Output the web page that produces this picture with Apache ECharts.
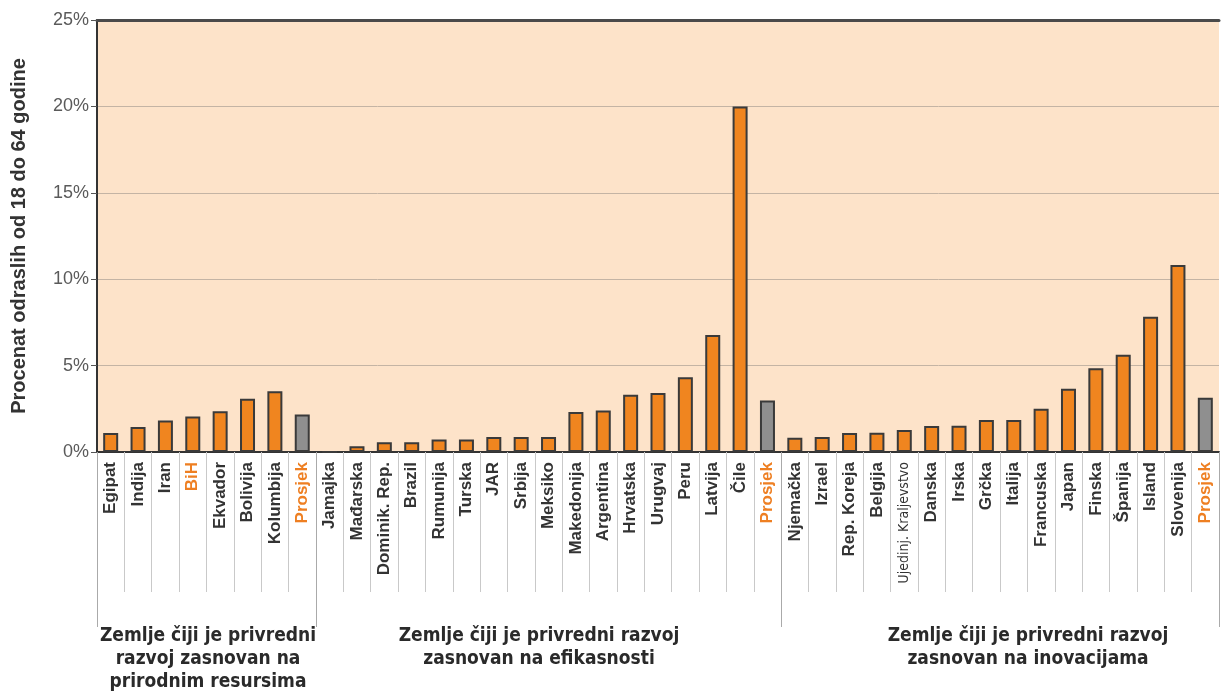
<!DOCTYPE html>
<html>
<head>
<meta charset="utf-8">
<script src="https://cdn.jsdelivr.net/npm/echarts@6/dist/echarts.min.js"></script>
<style>
html, body { margin: 0; padding: 0; background: #fff; }
#chart { width: 1221px; height: 697px; }
</style>
</head>
<body>
<div id="chart"></div>
<script>
var categories = [
  "Egipat", "Indija", "Iran", "BiH", "Ekvador", "Bolivija", "Kolumbija", "Prosjek",
  "Jamajka", "Mađarska", "Dominik. Rep.", "Brazil", "Rumunija", "Turska", "JAR", "Srbija",
  "Meksiko", "Makedonija", "Argentina", "Hrvatska", "Urugvaj", "Peru", "Latvija", "Čile", "Prosjek",
  "Njemačka", "Izrael", "Rep. Koreja", "Belgija", "Ujedinj. Kraljevstvo", "Danska", "Irska", "Grčka",
  "Italija", "Francuska", "Japan", "Finska", "Španija", "Island", "Slovenija", "Prosjek"
];
var values = [
  1.1, 1.45, 1.83, 2.06, 2.36, 3.08, 3.52, 2.17,
  0, 0.33, 0.56, 0.56, 0.73, 0.73, 0.87, 0.87,
  0.87, 2.31, 2.4, 3.31, 3.42, 4.33, 6.77, 20.0, 2.98,
  0.83, 0.87, 1.1, 1.12, 1.28, 1.5, 1.52, 1.85,
  1.85, 2.5, 3.66, 4.84, 5.63, 7.83, 10.82, 3.14
];
var highlighted = ["BiH", "Prosjek"];
var groupStarts = [0, 8, 25];
var groupLabels = [
  "Zemlje čiji je privredni\nrazvoj zasnovan na\nprirodnim resursima",
  "Zemlje čiji je privredni razvoj\nzasnovan na efikasnosti",
  "Zemlje čiji je privredni razvoj\nzasnovan na inovacijama"
];
var groupLabelX = [208, 539, 1028];

var chart = echarts.init(document.getElementById("chart"));

var barData = values.map(function (v, i) {
  var isAvg = categories[i] === "Prosjek";
  return {
    value: v,
    itemStyle: { color: isAvg ? "#8f8f8f" : "#f0851f" }
  };
});

var tickIdx = categories.map(function (c, i) { return i; });

chart.setOption({
  animation: false,
  textStyle: { fontFamily: "Liberation Sans, Arial, sans-serif" },
  grid: {
    left: 97, right: 2, top: 20, bottom: 245,
    show: true, backgroundColor: "#fde3c9", borderWidth: 0,
    outerBoundsMode: "none"
  },
  xAxis: [
    {
      type: "category",
      data: tickIdx,
      axisLine: { lineStyle: { color: "#333", width: 2 } },
      axisTick: { show: true, interval: 0, length: 140, lineStyle: { color: "#c9c9c9", width: 1 } },
      axisLabel: {
        interval: 0,
        rotate: 90,
        margin: 10,
        fontSize: 17,
        fontWeight: "bold",
        formatter: function (v) {
          var name = categories[v];
          if (name === "Ujedinj. Kraljevstvo") return "{s|" + name + "}";
          return name;
        },
        color: function (v) {
          return highlighted.indexOf(categories[v]) >= 0 ? "#ee7f22" : "#333";
        },
        rich: {
          s: { fontSize: 14, fontWeight: "normal", fontFamily: "DejaVu Sans Condensed, Arial", color: "#333" }
        }
      }
    },
    {
      type: "category",
      data: tickIdx,
      position: "top",
      axisLine: { lineStyle: { color: "#4a4a4a", width: 3 } },
      axisTick: { show: false },
      axisLabel: { show: false }
    },
    {
      type: "category",
      data: tickIdx,
      position: "bottom",
      axisLine: { show: false },
      axisLabel: { show: false },
      axisTick: {
        show: true,
        length: 175,
        interval: function (i) { return groupStarts.indexOf(i) >= 0; },
        lineStyle: { color: "#aaa", width: 1 }
      }
    }
  ],
  yAxis: {
    type: "value",
    min: 0,
    max: 25,
    interval: 5,
    name: "Procenat odraslih od 18 do 64 godine",
    nameLocation: "middle",
    nameGap: 68,
    nameTextStyle: { fontSize: 20, fontWeight: "bold", color: "#333" },
    axisLine: { show: true, lineStyle: { color: "#333", width: 2 } },
    axisTick: { show: true, length: 6, lineStyle: { color: "#555" } },
    axisLabel: { formatter: "{value}%", fontSize: 18, color: "#5a5a5a", margin: 8 },
    splitLine: { lineStyle: { color: "#c4b4a4", width: 1 } }
  },
  series: [
    {
      type: "bar",
      data: barData,
      barWidth: 15,
      itemStyle: { borderColor: "#3a3a3a", borderWidth: 2 }
    }
  ],
  graphic: groupLabels.map(function (t, i) {
    return {
      type: "text",
      x: groupLabelX[i],
      y: 625,
      style: {
        text: t,
        textAlign: "center",
        fontSize: 19,
        fontWeight: "bold",
        lineHeight: 23,
        fontFamily: "DejaVu Sans Condensed, sans-serif",
        fill: "#2a2a2a"
      }
    };
  })
});
</script>
</body>
</html>
